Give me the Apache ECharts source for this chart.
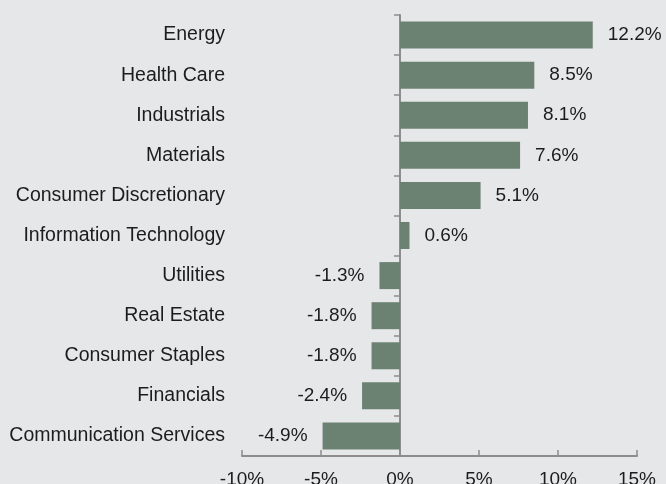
<!DOCTYPE html>
<html>
<head>
<meta charset="utf-8">
<script src="https://cdn.jsdelivr.net/npm/echarts@6/dist/echarts.min.js"></script>
<style>
html,body{margin:0;padding:0;background:#e6e7e9;}
#chart{width:666px;height:484px;}
</style>
</head>
<body>
<div id="chart"></div>
<script>
var sectors=["Energy","Health Care","Industrials","Materials","Consumer Discretionary","Information Technology","Utilities","Real Estate","Consumer Staples","Financials","Communication Services"];
var returns=[12.2,8.5,8.1,7.6,5.1,0.6,-1.3,-1.8,-1.8,-2.4,-4.9];
var xTicks=[-10,15,5];

var font="'Liberation Sans', Arial, Helvetica, sans-serif";
var axisGray="#8d8d8d";
var txt="#1c1c1c";

var chart=echarts.init(document.getElementById("chart"));

var option={
  backgroundColor:"#e6e7e9",
  animation:false,
  grid:{left:242,right:29,top:15,bottom:28,outerBoundsMode:"none",containLabel:false},
  xAxis:{
    type:"value",
    min:xTicks[0],
    max:xTicks[1],
    interval:xTicks[2],
    splitLine:{show:false},
    axisLine:{show:true,lineStyle:{color:axisGray,width:2}},
    axisTick:{show:true,inside:true,length:6,lineStyle:{color:axisGray,width:1.5}},
    axisLabel:{
      margin:14,
      color:txt,
      fontSize:19,
      fontFamily:font,
      formatter:function(v){return v+"%";}
    }
  },
  yAxis:[
    {
      type:"category",
      data:sectors,
      inverse:true,
      position:"left",
      axisLine:{show:false,onZero:false},
      axisTick:{show:false},
      axisLabel:{margin:17,color:txt,fontSize:19.5,fontFamily:font}
    },
    {
      type:"category",
      data:sectors,
      inverse:true,
      position:"left",
      axisLine:{show:true,onZero:true,lineStyle:{color:axisGray,width:2}},
      axisTick:{show:true,length:6,lineStyle:{color:axisGray,width:1.5}},
      axisLabel:{show:false}
    }
  ],
  series:[
    {
      type:"bar",
      yAxisIndex:0,
      barWidth:27,
      itemStyle:{color:"#6b8272"},
      data:returns.map(function(v){
        return {
          value:v,
          label:{position:v<0?"left":"right"}
        };
      }),
      label:{
        show:true,
        distance:15,
        color:txt,
        fontSize:19,
        fontFamily:font,
        formatter:function(p){return p.value.toFixed(1)+"%";}
      }
    }
  ]
};

chart.setOption(option);
</script>
</body>
</html>
